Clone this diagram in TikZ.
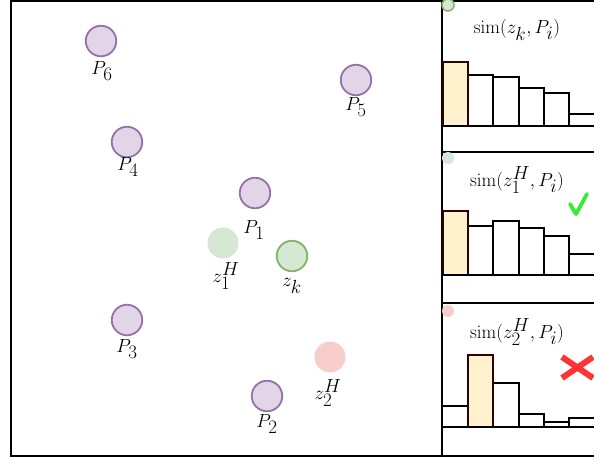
\RequirePackage{fix-cm}
\documentclass[tikz,border=0pt]{standalone}
\definecolor{pstroke}{HTML}{9673A6}
\definecolor{pfill}{HTML}{E1D5E7}
\definecolor{gstroke}{HTML}{82B366}
\definecolor{gfill}{HTML}{D5E8D4}
\definecolor{rfill}{HTML}{F8CECC}
\definecolor{yfill}{HTML}{FFF2CC}
\definecolor{ystroke}{HTML}{330000}
\definecolor{okgreen}{HTML}{33EE33}
\definecolor{badred}{HTML}{FF3333}
\begin{document}
\begin{tikzpicture}[x=1pt,y=-1pt,
  frame/.style={line width=2pt, draw=black},
  ptnode/.style={circle, draw=pstroke, fill=pfill, line width=1.8pt, minimum size=30.5pt, inner sep=0pt},
  hnode/.style={circle, fill=#1, minimum size=31pt, inner sep=0pt},
  zknode/.style={circle, draw=gstroke, fill=gfill, line width=1.8pt, minimum size=30.5pt, inner sep=0pt},
  mini/.style={circle, minimum size=12pt, inner sep=0pt},
  lbl/.style={font=\fontsize{19}{22}\selectfont, inner sep=0pt},
  ttl/.style={font=\fontsize{19}{22}\selectfont, inner sep=0pt},
  barw/.style={draw=black, fill=white, line width=1.5pt},
  bary/.style={draw=ystroke, fill=yfill, line width=1.5pt},
  sep/.style={line width=1.5pt, draw=black}]
\useasboundingbox (0,0) rectangle (594,459);
% outer frame
\draw[frame] (11,0.5) rectangle (600,456);
\draw[frame] (442,0.5) -- (442,456);
\draw[sep] (442,152) -- (600,152);
\draw[sep] (442,303) -- (600,303);
% left panel points
\node[ptnode] (p6) at (101,41) {};
\node[lbl] (l6) at (102,71) {$P_{\textstyle 6}$};
\node[ptnode] (p4) at (127,142) {};
\node[lbl] (l4) at (128,167) {$P_{\textstyle 4}$};
\node[ptnode] (p5) at (356,80) {};
\node[lbl] (l5) at (356,107) {$P_{\textstyle 5}$};
\node[ptnode] (p1) at (255,193) {};
\node[lbl] (l1) at (254,230) {$P_{\textstyle 1}$};
\node[hnode=gfill] (h1) at (223,243) {};
\node[lbl] (lh1) at (226,276) {$z^{\textstyle H}_{\textstyle 1}$};
\node[zknode] (zk) at (292,256) {};
\node[lbl] (lzk) at (292,286) {$z_{\textstyle k}$};
\node[ptnode] (p3) at (127,320) {};
\node[lbl] (l3) at (127,349) {$P_{\textstyle 3}$};
\node[hnode=rfill] (h2) at (330,357) {};
\node[lbl] (lh2) at (328,393) {$z^{\textstyle H}_{\textstyle 2}$};
\node[ptnode] (p2) at (267,396) {};
\node[lbl] (l2) at (267,424) {$P_{\textstyle 2}$};
% panel 1
\node[mini, draw=gstroke, fill=gfill, line width=1.5pt] (m1) at (448,5) {};
\node[ttl] (t1) at (517,30) {$\mathrm{sim}(z_{\textstyle k},P_{\textstyle i})$};
\foreach \a/\b/\h [count=\i] in {468/493/75, 493/519/77, 519/544/88, 544/569/93, 569/600/114}
  \draw[barw] (\a,126) rectangle (\b,\h);
\draw[bary] (443,126) rectangle (468,62);
\draw[sep] (442,126) -- (600,126);
% panel 2
\node[mini, fill=gfill] (m2) at (448,158) {};
\node[ttl] (t2) at (517,180) {$\mathrm{sim}(z^{\textstyle H}_{\textstyle 1},P_{\textstyle i})$};
\foreach \a/\b/\h in {468/493/226, 493/519/221, 519/544/228, 544/569/236, 569/600/254}
  \draw[barw] (\a,275) rectangle (\b,\h);
\draw[bary] (443,275) rectangle (468,211);
\draw[sep] (442,275) -- (600,275);
\draw[okgreen, line width=3.8pt, line cap=round, line join=round] (570,204) -- (576,214) -- (587,194);
% panel 3
\node[mini, fill=rfill] (m3) at (448,311) {};
\node[ttl] (t3) at (517,332) {$\mathrm{sim}(z^{\textstyle H}_{\textstyle 2},P_{\textstyle i})$};
\foreach \a/\b/\h in {442/468/406, 493/519/383, 519/544/414, 544/569/422, 569/600/418}
  \draw[barw] (\a,427) rectangle (\b,\h);
\draw[bary] (468,427) rectangle (493,355);
\draw[sep] (442,427) -- (600,427);
\draw[badred, line width=6pt] (562,357) -- (593,378) (562,378) -- (593,357);
\end{tikzpicture}
\end{document}
